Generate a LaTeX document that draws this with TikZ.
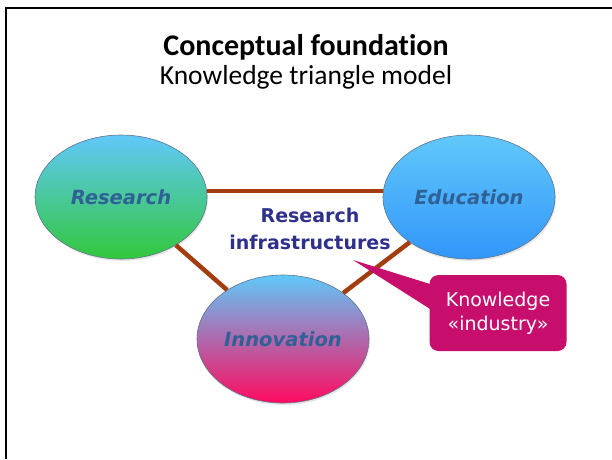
\documentclass[tikz,border=0pt]{standalone}
\usepackage{fontspec}
\setmainfont[Ligatures=CommonOff]{Carlito}
\newfontfamily\verdana{DejaVu Sans}
\usetikzlibrary{shapes.geometric,shadows}

\definecolor{linkbrown}{RGB}{163,60,14}
\definecolor{polerim}{RGB}{95,115,140}
\definecolor{polelabel}{RGB}{47,96,150}
\definecolor{hublabel}{RGB}{46,48,140}
\definecolor{skytop}{RGB}{96,200,250}
\definecolor{leafgreen}{RGB}{50,200,60}
\definecolor{seablue}{RGB}{50,150,250}
\definecolor{rosered}{RGB}{255,10,95}
\definecolor{industrypink}{RGB}{200,14,108}

\tikzset{
  pole/.style={ellipse, draw=polerim, line width=0.6pt, inner sep=0pt,
    minimum width=172pt, minimum height=124pt, text=polelabel,
    font=\verdana\bfseries\itshape\fontsize{19.5}{22}\selectfont,
    drop shadow={opacity=0.2, shadow xshift=1pt, shadow yshift=-2pt}},
  link/.style={draw=linkbrown, line width=4.5pt},
  callbox/.style={fill=industrypink, rounded corners=9pt, text=white,
    minimum width=137pt, minimum height=76pt, align=center,
    font=\verdana\fontsize{19}{24}\selectfont}
}

\begin{document}
\begin{tikzpicture}[x=1pt, y=-1pt]
  \useasboundingbox (0,0) rectangle (612,459);
  \draw[line width=2.5pt] (6,459) -- (6,8) -- (612,8);

  \node (title)    at (306,47) {\fontsize{30}{36}\selectfont\bfseries Conceptual foundation};
  \node (subtitle) at (306,77) {\fontsize{27.5}{33}\selectfont Knowledge triangle model};

  \begin{scope}[every node/.style={pole}]
    \node[top color=skytop, bottom color=leafgreen] (research)  at (121,197) {Research};
    \node[top color=skytop, bottom color=seablue]   (education) at (469,197) {Education};
    \node[top color=skytop, bottom color=rosered, minimum height=128pt] (innovation) at (283,339) {Innovation};
  \end{scope}

  \begin{scope}[every edge/.style={link}]
    \path (research.4)  edge (education.176);
    \path (research)    edge (innovation);
    \path (education)   edge (innovation);
  \end{scope}

  \node[align=center, text=hublabel, font=\verdana\bfseries\fontsize{19}{27}\selectfont] (hub) at (310,229) {Research\\infrastructures};

  \node[callbox] (industry) at (498,313) {Knowledge\\«industry»};
  \coordinate (tip) at (353,260);
  \fill[industrypink] (tip) -- ([xshift=4pt, yshift=28pt]industry.west) -- ([xshift=4pt, yshift=2pt]industry.west) -- cycle;
\end{tikzpicture}
\end{document}
